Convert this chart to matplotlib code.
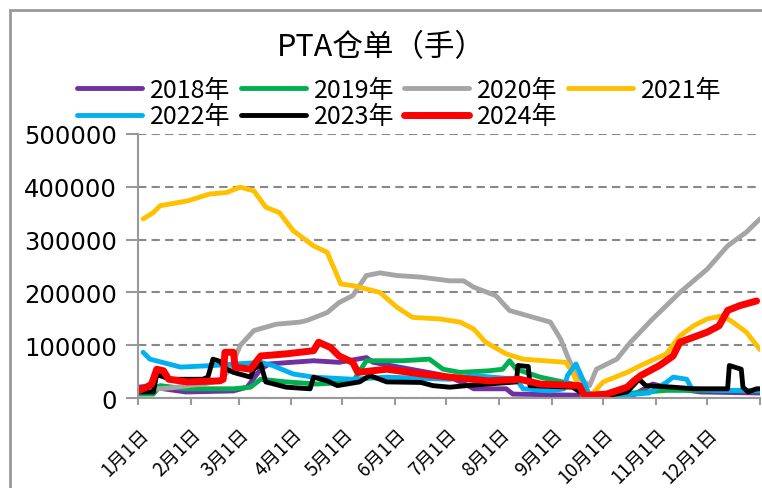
import matplotlib
matplotlib.use("Agg")
import matplotlib.pyplot as plt
import matplotlib.transforms as mtransforms
from matplotlib.patches import Rectangle

# 数据：x 为一年中的第几天, y 为仓单量(千手)
d2018 = [0, 9, 15, 28, 56, 64, 72, 77, 103, 118, 134, 138, 165, 177, 183, 190, 197, 216, 220, 255, 290, 302, 310, 330, 365]
v2018 = [21, 24, 18, 12, 14, 21, 55, 65, 71, 68, 77, 68, 52, 45, 40, 30, 18, 18, 8, 6, 5, 27, 21, 12, 10]

d2019 = [0, 9, 13, 28, 56, 66, 72, 87, 105, 126, 134, 155, 171, 179, 189, 206, 214, 218, 222, 236, 255, 263, 290, 310, 330, 365]
v2019 = [8, 8, 24, 18, 18, 21, 36, 31, 27, 31, 71, 71, 74, 55, 49, 52, 55, 71, 55, 40, 27, 8, 10, 15, 15, 14]

d2020 = [0, 20, 40, 48, 54, 60, 68, 81, 95, 99, 111, 118, 126, 134, 142, 152, 166, 183, 191, 197, 210, 218,
         232, 242, 248, 252, 257, 265, 269, 281, 289, 302, 318, 334, 346, 357, 365]
v2020 = [15, 20, 28, 33, 55, 100, 128, 140, 144, 147, 162, 181, 194, 232, 237, 232, 229, 222, 222, 210, 194, 166,
         153, 144, 112, 80, 43, 24, 55, 74, 106, 150, 200, 244, 288, 314, 339]

d2021 = [3, 9, 13, 29, 42, 52, 60, 68, 75, 83, 91, 103, 111, 119, 126, 142, 152, 161, 177, 189, 197, 204, 216,
         226, 251, 255, 261, 265, 273, 287, 295, 310, 318, 326, 334, 343, 349, 357, 365]
v2021 = [339, 351, 364, 373, 386, 389, 399, 392, 361, 351, 317, 288, 276, 216, 213, 200, 172, 153, 150, 144, 131, 106, 84,
         74, 68, 49, 5, 3, 31, 49, 62, 84, 118, 137, 150, 156, 144, 125, 92]

d2022 = [3, 7, 25, 44, 72, 79, 91, 103, 126, 146, 183, 197, 222, 226, 242, 250, 252, 257, 261, 265, 280, 300,
         310, 314, 322, 325, 340, 365]
v2022 = [87, 74, 59, 62, 68, 62, 46, 40, 36, 40, 36, 43, 36, 18, 14, 18, 43, 65, 36, 5, 5, 10,
         30, 40, 36, 18, 15, 15]

d2023 = [0, 9, 11, 19, 38, 41, 44, 48, 52, 56, 66, 68, 72, 75, 87, 101, 103, 111, 117, 130, 136, 146, 166, 173,
         183, 193, 222, 223, 229, 230, 255, 263, 275, 287, 294, 298, 314, 326, 346, 347, 354, 355, 358, 363, 365]
v2023 = [12, 12, 45, 36, 36, 40, 74, 70, 55, 49, 40, 55, 65, 31, 21, 18, 40, 33, 24, 31, 43, 31, 30, 24,
         21, 24, 31, 62, 60, 24, 21, 5, 5, 12, 36, 24, 21, 18, 18, 62, 55, 21, 12, 18, 18]

d2024 = [0, 5, 8, 11, 15, 18, 29, 48, 50, 51, 56, 57, 66, 72, 87, 103, 106, 113, 118, 126, 129, 146, 166, 183,
         206, 224, 236, 259, 262, 275, 287, 291, 295, 306, 314, 318, 334, 341, 346, 353, 363]
v2024 = [14, 21, 27, 55, 52, 36, 31, 33, 36, 87, 87, 59, 55, 80, 84, 90, 106, 96, 80, 68, 49, 55, 46, 40,
         33, 36, 27, 24, 5, 8, 21, 33, 43, 62, 80, 106, 125, 137, 166, 175, 184]

series = [
    ("2018年", d2018, v2018, "#7030A0", 3.5),
    ("2019年", d2019, v2019, "#00B050", 3.5),
    ("2020年", d2020, v2020, "#A5A5A5", 3.5),
    ("2021年", d2021, v2021, "#FFC000", 3.5),
    ("2022年", d2022, v2022, "#00B0F0", 3.5),
    ("2023年", d2023, v2023, "#000000", 3.5),
    ("2024年", d2024, v2024, "#FF0000", 5.0),
]

month_days = [0, 31, 59, 90, 120, 151, 181, 212, 243, 273, 304, 334, 365]
month_labels = [f"{m}月1日" for m in range(1, 13)] + [""]

cjk = ["Noto Sans CJK SC", "DejaVu Sans"]

fig = plt.figure(figsize=(7.62, 4.89), dpi=100)
ax = fig.add_axes([138 / 762, 0.1834, (760 - 138) / 762, 0.5411])

lines = {}
for name, d, v, c, lw in series:
    ln, = ax.plot(d, [x * 1000 for x in v], color=c, lw=lw, solid_capstyle="round",
                  solid_joinstyle="round", label=name)
    lines[name] = ln

ax.set_xlim(0, 365)
ax.set_ylim(0, 500000)
ax.set_yticks(range(0, 500001, 100000))
ax.set_yticklabels([str(t) for t in range(0, 500001, 100000)], family=["DejaVu Sans"], fontsize=17.5)
ax.set_xticks(month_days)
ax.set_xticklabels(month_labels, rotation=45, ha="right", va="top", rotation_mode="anchor",
                   family=cjk, fontsize=13.5)
# 日期标签整体左移一点
shift = mtransforms.ScaledTranslation(-7 / 100, 0, fig.dpi_scale_trans)
for lab in ax.get_xticklabels():
    lab.set_transform(lab.get_transform() + shift)

ax.yaxis.grid(True, linestyle=(0, (4, 2.5)), color="#888888", lw=1.5)
ax.set_axisbelow(True)
for s in ["top", "right"]:
    ax.spines[s].set_visible(False)
for s in ["left", "bottom"]:
    ax.spines[s].set_color("#999999")
    ax.spines[s].set_linewidth(1.5)
ax.tick_params(axis="y", length=8.6, width=1.5, color="#999999", pad=6.5)
ax.tick_params(axis="x", length=5, width=1.5, color="#999999", pad=13)

fig.text(0.5, 0.902, "PTA仓单（手）", ha="center", va="center", family=cjk, fontsize=22)

order = ["2018年", "2022年", "2019年", "2023年", "2020年", "2024年", "2021年"]
fig.legend([lines[k] for k in order], order, loc="center", bbox_to_anchor=(0.524, 0.787), ncol=4,
           frameon=False, prop={"family": cjk, "size": 18}, handlelength=2.6, handletextpad=0.32,
           columnspacing=0.4, labelspacing=0.02, borderpad=0)

# 外框
fig.patches.append(Rectangle((10 / 762, -0.1), 1.2, 1.1 - 11 / 489, transform=fig.transFigure,
                             fill=False, edgecolor="#999999", lw=2))

fig.savefig("out.png", dpi=100)
